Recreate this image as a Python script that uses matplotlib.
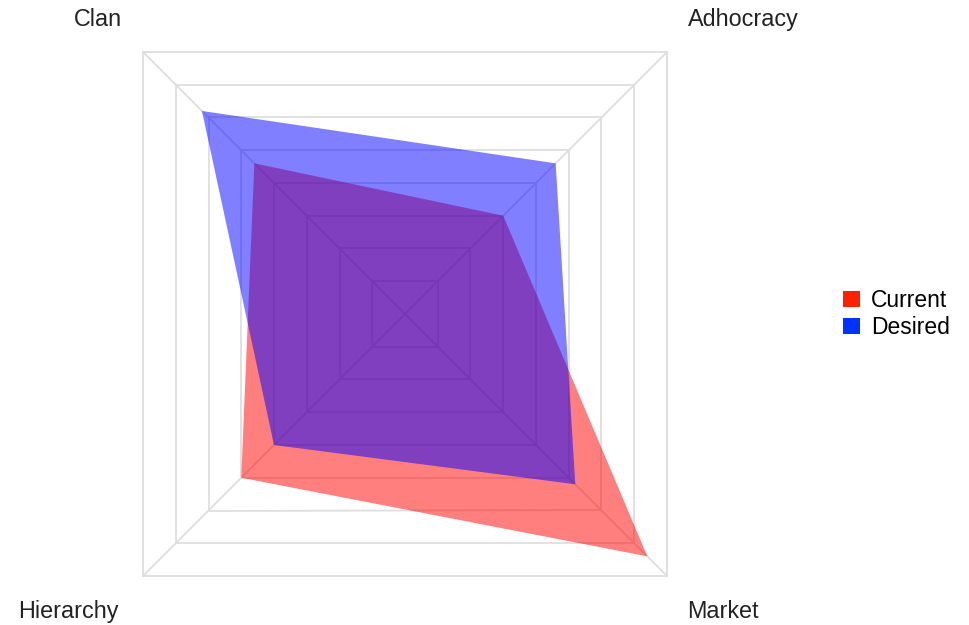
import numpy as np
import matplotlib.pyplot as plt
from matplotlib.patches import Patch

plt.rcParams['font.family'] = ['Liberation Sans', 'DejaVu Sans']

# culture profile scores (each profile sums to 100)
dimensions = ['Clan', 'Adhocracy', 'Market', 'Hierarchy']
current = [23, 15, 37, 25]
desired = [31, 23, 26, 20]
scale_max = 40
ring_step = 5

# each axis points at a corner of the square grid
angles = np.deg2rad([135, 45, -45, -135])
dirs = np.column_stack([np.cos(angles), np.sin(angles)]) / np.cos(np.pi / 4)


def to_xy(values):
    v = np.asarray(values, dtype=float)[:, None]
    return v * dirs


W, H = 970, 625
fig = plt.figure(figsize=(W / 100, H / 100), dpi=100)
# square plot area, in pixels: x 143..667, y 52..576 from the top
ax = fig.add_axes([143 / W, (H - 576) / H, 524 / W, 524 / H])
ax.set_xlim(-scale_max, scale_max)
ax.set_ylim(-scale_max, scale_max)
ax.set_aspect('equal')
ax.axis('off')

grid_col = '#dedede'
for r in np.arange(ring_step, scale_max + 1, ring_step):
    ring = to_xy([r] * 4)
    ring = np.vstack([ring, ring[:1]])
    ax.plot(ring[:, 0], ring[:, 1], color=grid_col, lw=1.3, clip_on=False, zorder=1)
for d in dirs:
    ax.plot([0, d[0] * scale_max], [0, d[1] * scale_max], color=grid_col, lw=1.3,
            clip_on=False, zorder=1)

series = [('Current', current, '#ff0000', '#ff2200'),
          ('Desired', desired, '#0000ff', '#0033ff')]
handles = []
for name, vals, fill_col, key_col in series:
    pts = to_xy(vals)
    ax.fill(pts[:, 0], pts[:, 1], color=fill_col, alpha=0.5, lw=0, zorder=2,
            clip_on=False)
    handles.append(Patch(facecolor=key_col, edgecolor='none', label=name))

# axis names sit just outside the square's corners
label_offsets = {'Clan': (-21, 26, 'right'), 'Adhocracy': (21, 26, 'left'),
                 'Market': (20, -42, 'left'), 'Hierarchy': (-24, -42, 'right')}
for name, d in zip(dimensions, dirs):
    dx, dy, ha = label_offsets[name]
    ax.annotate(name, xy=(d[0] * scale_max, d[1] * scale_max),
                xytext=(dx, dy), textcoords='offset pixels',
                ha=ha, va='baseline', fontsize=16.8, color='#222222')

fig.legend(handles=handles, loc='center left',
           bbox_to_anchor=(834 / W, (H - 314) / H), frameon=False,
           fontsize=16.5, handlelength=0.72, handleheight=0.72,
           handletextpad=0.5, labelspacing=0.2, borderaxespad=0)

fig.savefig('out.png', dpi=100)
